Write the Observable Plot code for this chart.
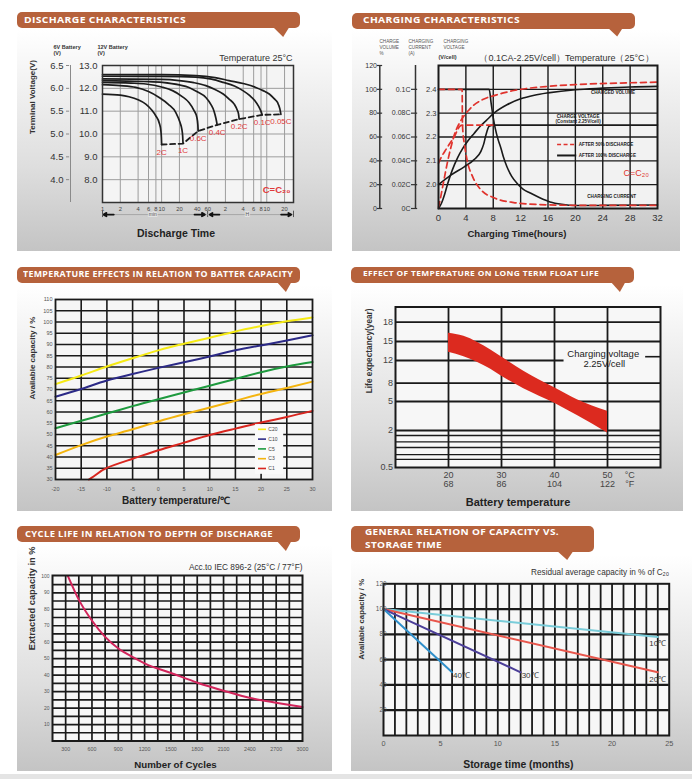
<!DOCTYPE html>
<html>
<head>
<meta charset="utf-8">
<script src="https://cdn.jsdelivr.net/npm/d3@7"></script>
<script src="https://cdn.jsdelivr.net/npm/@observablehq/plot@0.6"></script>
<style>
  html,body{margin:0;padding:0;background:#fff;}
  #page{position:relative;width:692px;height:779px;overflow:hidden;background:#fff;font-family:"Liberation Sans",Arial,sans-serif;}
  .bg{position:absolute;background:linear-gradient(to bottom,#ffffff 0%,#f3f3f3 22%,#dedede 62%,#c4c4c4 100%);}
  .banner{position:absolute;background:#b6623c;border-radius:5px;}
  .tail{position:absolute;background:#b6623c;clip-path:polygon(0 0,100% 0,62% 100%);}
  .btxt{position:absolute;white-space:nowrap;color:#fff;font-family:"Open Sans",sans-serif;font-weight:700;transform-origin:0 50%;line-height:1;letter-spacing:0.3px;}
  .chart{position:absolute;}
  .foot{position:absolute;left:0;top:774px;width:692px;height:5px;background:#e4e4e4;}
</style>
</head>
<body>
<div id="page"></div>
<script>
// ================= DATA =================
// Panel 1 – discharge characteristics (time in minutes, 12 V battery voltage)
const dischargeRates = ["2C", "1C", "0.6C", "0.4C", "0.2C", "0.1C", "0.05C"];
const discharge2C = [[1,11.75],[2,11.7],[2.8,11.63],[4,11.5],[5.4,11.31],[6.8,11.05],[7.95,10.8],[9.2,10.45],[9.7,10.15],[9.9,9.85],[10,9.54]];
const discharge1C = [[1,12.16],[2,12.12],[3.66,12.04],[6,11.86],[9.1,11.6],[13,11.3],[17.4,10.94],[20.5,10.5],[22,10.2],[22.7,9.9],[23,9.6]];
const discharge06C = [[1,12.26],[3,12.23],[5.4,12.19],[10,12.06],[15.3,11.9],[22,11.65],[29,11.38],[35,11.05],[39.5,10.72],[41,10.4],[41.5,10.13]];
const discharge04C = [[1,12.34],[5,12.3],[10.3,12.26],[20,12.15],[29,12.04],[40,11.85],[56,11.6],[68,11.3],[77,11.0],[83,10.68],[87,10.4]];
const discharge02C = [[1,12.41],[10,12.39],[19.8,12.34],[35,12.25],[56,12.12],[80,11.95],[110,11.75],[140,11.52],[169,11.31],[190,11.05],[200,10.87],[205,10.65]];
const discharge01C = [[1,12.53],[10,12.52],[38,12.49],[70,12.4],[110,12.26],[170,12.1],[237,11.9],[310,11.68],[378,11.46],[440,11.2],[478,11.0],[502,10.84]];
const discharge005C = [[1,12.6],[10,12.6],[38,12.56],[80,12.47],[138,12.34],[250,12.2],[391,12.04],[520,11.9],[661,11.75],[800,11.55],[912,11.38],[1000,11.1],[1040,10.86]];
const dischargeEndLine = [[10,9.54],[23,9.58],[41.5,10.13],[87,10.4],[205,10.65],[502,10.84],[1040,10.86]];
const dischargeTickMinutes = [1,2,4,6,8,10,20,40,60,120,240,360,480,600,1200];
const dischargeTickLabels = ["1","2","4","6","8","10","20","40","60","2","4","6","8","10","20"];
const volt12Ticks = [13,12,11,10,9,8];
const volt6Labels = ["6.5","6.0","5.5","5.0","4.5","4.0"];

// Panel 2 – charging characteristics (hours; volume %, current in C, voltage V/cell)
const chargeVoltage100 = [[0,2.0],[1.8,2.04],[3.76,2.075],[5.2,2.105],[6.2,2.14],[6.6,2.17],[6.9,2.205],[7.4,2.245],[8,2.25],[32,2.25]];
const chargeVoltage50 = [[0,2.09],[0.5,2.12],[1.1,2.148],[1.7,2.175],[2.3,2.2],[2.7,2.225],[3.1,2.245],[3.5,2.25],[8,2.25]];
const chargeCurrent100 = [[0,0.1],[7.4,0.1],[7.7,0.088],[8.0,0.076],[8.3,0.067],[8.7,0.058],[9.1,0.051],[9.5,0.043],[10,0.035],[10.7,0.027],[11.5,0.021],[12.4,0.016],[13.4,0.013],[14.8,0.009],[16.3,0.0055],[18,0.0035],[20,0.0025],[24,0.0026],[32,0.003]];
const chargeCurrent50 = [[0,0.1],[3.45,0.1],[3.5,0.072],[3.6,0.062],[3.76,0.055],[4.2,0.040],[5,0.0265],[6.2,0.0157],[8.1,0.009],[11,0.005],[14.8,0.0033],[20,0.0027],[32,0.0027]];
const chargeVolume100 = [[0,0],[0.4,4],[0.9,12],[1.35,21],[2,32],[2.8,42.7],[3.5,50],[4.2,56],[5.2,63],[6.2,69.7],[7,74],[8.1,80],[10,87],[12,92],[14,95],[16,97],[20,99.7],[24,101],[28,102],[32,102.5]];
const chargeVolume50 = [[0,1],[0.3,9],[0.6,18],[1,30],[1.35,40],[1.8,51],[2.3,61.6],[3,71],[3.76,78],[4.5,83],[5.2,87],[6,90],[7.1,93],[8,94.5],[9.5,97],[11,99],[12,100],[16,102.5],[20,104],[26,105.2],[32,106]];
const chargeHourTicks = [0,4,8,12,16,20,24,28,32];
const chargeVolumeTicks = [0,20,40,60,80,100,120];
const chargeCurrentTicks = [0,0.02,0.04,0.06,0.08,0.1];
const chargeCurrentLabels = ["0C","0.02C","0.04C","0.06C","0.08C","0.1C"];
const chargeVoltageTicks = [2.0,2.1,2.2,2.3,2.4];

// Panel 3 – temperature vs available capacity
const tempSeriesNames = ["C20","C10","C5","C3","C1"];
const tempX = [-20,-15,-10,-5,0,5,10,15,20,25,30];
const capC20 = [72.4,76.2,80.2,83.9,87.4,90.3,93,95.8,98.2,100.3,102];
const capC10 = [66.8,70.2,74,76.9,79.6,82.1,84.7,87.4,89.6,91.8,94.1];
const capC5 = [52.8,56.1,59.3,62.6,65.7,68.7,71.7,74.7,77.7,80.2,82.2];
const capC3 = [40.9,45.3,49.1,52.3,55.8,59,62,65,68,70.7,73.5];
const tempXC1 = [-13.5,-12,-10,-5,0,5,10,15,20,25,30];
const capC1 = [30,32.3,35.2,39.2,43,46.4,49.8,52.6,55.3,57.8,60.5];
const tempColors = ["#f5ea14","#2c2a87","#1e9a3e","#f4b40e","#d9261f"];
const tempTicksX = [-20,-15,-10,-5,0,5,10,15,20,25,30];
const tempTicksY = [30,35,40,45,50,55,60,65,70,75,80,85,90,95,100,105,110];

// Panel 4 – float life vs temperature
const floatTemp = [20,22.9,25.4,27.9,30.1,34.2,40.1,44.3,50];
const floatLower = [13.3,12.6,11.7,10.5,9.2,7.1,4.8,3.55,1.9];
const floatUpper = [16.3,15.8,14.9,13.7,12.5,10.1,7.2,5.3,4.0];
const floatYTicks = [0.5,2,5,8,12,15,18];
const floatMinorLines = [1.8,1.54,1.31,1.02,0.83];
const floatTempC = [20,30,40,50];
const floatTempF = [68,86,104,122];

// Panel 5 – cycle life
const cycleCounts = [327,454,597,750,905,1078,1205,1502,1802,2110,2406,2714,3000];
const cycleDepth = [100,85.4,73.3,63.2,56,50.6,47,41.3,35.4,30.4,26.1,23.1,20.6];
const cycleXTicks = [300,600,900,1200,1500,1800,2100,2400,2700,3000];
const cycleYTicks = [10,20,30,40,50,60,70,80,90,100];

// Panel 6 – capacity vs storage time
const storageLabels = ["10℃","20℃","30℃","40℃"];
const storageEndMonth = [24,24,12,6];
const storageEndCap = [78,50,50,50];
const storageColors = ["#79ccd9","#e8564c","#4b3e98","#2f8fca"];
const storageXTicks = [0,5,10,15,20,25];
const storageYTicks = [20,40,60,80,100,120];

// ================= LAYOUT HELPERS =================
const page = document.getElementById("page");
function box(cls, l, t, w, h) {
  const d = document.createElement("div");
  d.className = cls;
  Object.assign(d.style, {left: l + "px", top: t + "px", width: w + "px", height: h + "px"});
  page.appendChild(d);
  return d;
}
function bannerText(text, l, cy, w, fs) {
  const s = document.createElement("div");
  s.className = "btxt";
  s.textContent = text;
  s.style.left = l + "px";
  s.style.top = (cy - 0.53 * fs) + "px";
  s.style.fontSize = fs + "px";
  page.appendChild(s);
  const actual = s.getBoundingClientRect().width;
  s.style.transform = `scaleX(${w / actual})`;
}
function mount(svg, l, t) {
  svg.classList.add("chart");
  svg.style.position = "absolute";
  svg.style.left = l + "px";
  svg.style.top = t + "px";
  page.appendChild(svg);
}
const baseStyle = {background: "transparent", overflow: "visible", fontFamily: '"Liberation Sans", Arial, sans-serif', color: "#222"};
const T = (data, o) => Plot.text(data, {lineAnchor: "middle", ...o});
const title = (t, o) => T([t], {text: d => d, ...o});

// backgrounds
box("bg", 17, 30, 315, 221);
box("bg", 352, 30, 328, 221);
box("bg", 17, 285, 315, 226);
box("bg", 351, 285, 332, 226);
box("bg", 17, 545, 315, 226);
box("bg", 351, 555, 341, 216);
box("foot", 0, 774, 692, 5);

// banners
box("banner", 17, 12, 283, 16); box("tail", 272, 26, 18, 11);
bannerText("DISCHARGE CHARACTERISTICS", 24, 20.3, 162, 8.6);
box("banner", 352, 13, 283, 15.5); box("tail", 606, 26, 18, 10.5);
bannerText("CHARGING CHARACTERISTICS", 363, 20.6, 157, 8.6);
box("banner", 17, 267, 283, 16); box("tail", 276, 281, 16, 11);
bannerText("TEMPERATURE EFFECTS IN RELATION TO BATTER CAPACITY", 23, 274.7, 270, 8.5);
box("banner", 351, 267, 283, 16); box("tail", 610, 281, 16, 11);
bannerText("EFFECT OF TEMPERATURE ON LONG TERM FLOAT LIFE", 363, 275, 236, 6.8);
box("banner", 17, 526, 283, 16); box("tail", 276, 540, 16, 11);
bannerText("CYCLE LIFE IN RELATION TO DEPTH OF DISCHARGE", 25, 534.7, 248, 8.5);
box("banner", 351, 526, 243, 26); box("tail", 556, 550, 18, 10);
bannerText("GENERAL RELATION OF CAPACITY VS.", 365, 532.5, 194, 8.8);
bannerText("STORAGE TIME", 365, 545.5, 77, 8.8);

// ================= PANEL 1 =================
const dischargeCurves = [discharge2C, discharge1C, discharge06C, discharge04C, discharge02C, discharge01C, discharge005C];
const dischargeTable = dischargeRates.flatMap((r, i) => dischargeCurves[i].map(([t, v]) => ({rate: r, t, v})));
const dischargeEnds = dischargeRates.map((r, i) => {
  const p = dischargeCurves[i][dischargeCurves[i].length - 1];
  return {rate: r, t: p[0], v: p[1]};
});
const p1 = Plot.plot({
  width: 346, height: 222, marginLeft: 102, marginRight: 53, marginTop: 35, marginBottom: 50,
  style: baseStyle,
  x: {type: "log", domain: [1, 1700], axis: null},
  y: {domain: [7, 13], axis: null},
  marks: [
    Plot.frame({fill: "#f4f4f4"}),
    Plot.ruleX(dischargeTickMinutes.filter(d => d > 1), {stroke: "#9d9d9d", strokeWidth: 1}),
    Plot.ruleY(volt12Ticks.filter(d => d < 13), {stroke: "#9d9d9d", strokeWidth: 1}),
    Plot.line(dischargeEndLine, {x: d => d[0], y: d => d[1], stroke: "#1c1c1c", strokeWidth: 1.8, strokeDasharray: "5,3.5"}),
    Plot.line(dischargeTable, {x: "t", y: "v", z: "rate", curve: "monotone-x", stroke: "#1c1c1c", strokeWidth: 1.7}),
    T(dischargeEnds, {x: "t", y: "v", text: "rate", dy: 7.5, fill: "#e03a3a", fontSize: 8}),
    Plot.frame({stroke: "#333", strokeWidth: 1.5}),
    T(volt12Ticks, {x: 1, y: d => d, text: d => d.toFixed(1), textAnchor: "end", dx: -5, fontSize: 9.5, fill: "#333"}),
    T(volt12Ticks, {x: 1, y: d => d, text: (d, i) => volt6Labels[i], textAnchor: "end", dx: -39, fontSize: 9.5, fill: "#333"}),
    Plot.ruleX([1], {y1: 7, y2: 13, dx: -32, stroke: "#8a8a8a"}),
    Plot.ruleY(volt12Ticks, {x1: 1, x2: 1.13, dx: -36, stroke: "#8a8a8a"}),
    T(dischargeTickMinutes, {x: d => d, text: (d, i) => dischargeTickLabels[i], frameAnchor: "bottom", dy: 7, fontSize: 5.8, fill: "#444"}),
    Plot.ruleX([1, 60, 1700], {y1: 6.34, y2: 6.62, stroke: "#555"}),
    Plot.ruleY([0], {x1: 1, x2: 60, y: 6.47, stroke: "#9a9a9a", strokeWidth: 0.8}),
    Plot.ruleY([0], {x1: 60, x2: 1700, y: 6.47, stroke: "#9a9a9a", strokeWidth: 0.8}),
    Plot.arrow([0], {x1: 1.55, x2: 1.04, y1: 6.47, y2: 6.47, stroke: "#111", strokeWidth: 1.8, headLength: 3}),
    Plot.arrow([0], {x1: 36, x2: 54, y1: 6.47, y2: 6.47, stroke: "#111", strokeWidth: 1.8, headLength: 3}),
    Plot.arrow([0], {x1: 95, x2: 65, y1: 6.47, y2: 6.47, stroke: "#111", strokeWidth: 1.8, headLength: 3}),
    Plot.arrow([0], {x1: 1050, x2: 1560, y1: 6.47, y2: 6.47, stroke: "#111", strokeWidth: 1.8, headLength: 3}),
    T(["min"], {text: d => d, x: 7.1, y: 6.47, fontSize: 5, fill: "#555", stroke: "#e2e2e2", strokeWidth: 2, paintOrder: "stroke"}),
    T(["H"], {text: d => d, x: 281, y: 6.47, fontSize: 5, fill: "#555", stroke: "#e2e2e2", strokeWidth: 2, paintOrder: "stroke"}),
    title("6V Battery\n(V)", {frameAnchor: "top-left", dx: -49, dy: -15, fontSize: 5.5, fontWeight: "bold", fill: "#333", lineHeight: 1.1}),
    title("12V Battery\n(V)", {frameAnchor: "top-left", dx: -5, dy: -15, fontSize: 5.5, fontWeight: "bold", fill: "#333", lineHeight: 1.1}),
    title("Temperature 25°C", {frameAnchor: "top-right", textAnchor: "end", dx: -1, dy: -7, fontSize: 9, fill: "#333"}),
    title("C=C₂₀", {frameAnchor: "bottom-right", textAnchor: "end", dx: -3, dy: -13, fontSize: 9.5, fontWeight: "bold", fill: "#e03a3a"}),
    title("Discharge Time", {frameAnchor: "bottom", dx: -22, dy: 31, fontSize: 10.5, fontWeight: "bold", fill: "#222"}),
    title("Terminal Voltage(V)", {frameAnchor: "left", dx: -70, rotate: -90, fontSize: 8, fontWeight: "bold", fill: "#333"})
  ]
});
mount(p1, 0, 30);

// ================= PANEL 2 =================
const vToY = v => (v - 1.9) * 200;
const cToY = c => c * 1000;
const blackLine = {curve: "monotone-x", stroke: "#1a1a1a", strokeWidth: 1.6};
const redDash = {curve: "monotone-x", stroke: "#e0332d", strokeWidth: 1.7, strokeDasharray: "6,4"};
const tiny = {fontSize: 4.6, fontWeight: "bold", fill: "#222"};
const p2 = Plot.plot({
  width: 346, height: 222, marginLeft: 92, marginRight: 35, marginTop: 35, marginBottom: 44,
  style: baseStyle,
  x: {domain: [0, 32], axis: null},
  y: {domain: [0, 120], axis: null},
  marks: [
    Plot.frame({fill: "#f2f2f2"}),
    Plot.ruleX(chargeHourTicks.filter(d => d > 0 && d < 32), {stroke: "#1a1a1a", strokeWidth: 1.4}),
    Plot.ruleY(chargeVolumeTicks.filter(d => d > 0 && d < 120), {stroke: "#1a1a1a", strokeWidth: 1.4}),
    Plot.line(chargeVoltage100, {x: d => d[0], y: d => vToY(d[1]), ...blackLine}),
    Plot.line(chargeCurrent100, {x: d => d[0], y: d => cToY(d[1]), ...blackLine}),
    Plot.line(chargeVolume100, {x: d => d[0], y: d => d[1], ...blackLine}),
    Plot.line(chargeVoltage50, {x: d => d[0], y: d => vToY(d[1]), ...redDash}),
    Plot.line(chargeCurrent50, {x: d => d[0], y: d => cToY(d[1]), ...redDash}),
    Plot.line(chargeVolume50, {x: d => d[0], y: d => d[1], ...redDash}),
    // legend
    Plot.ruleY([53.7], {x1: 17.4, x2: 20.2, stroke: "#e0332d", strokeWidth: 1.7, strokeDasharray: "4,2.5"}),
    Plot.ruleY([44.5], {x1: 17.4, x2: 20.2, stroke: "#1a1a1a", strokeWidth: 2}),
    T(["AFTER 50% DISCHARGE"], {text: d => d, x: 20.5, y: 53.7, textAnchor: "start", ...tiny}),
    T(["AFTER 100% DISCHARGE"], {text: d => d, x: 20.5, y: 44.5, textAnchor: "start", ...tiny}),
    T(["CHARGED VOLUME"], {text: d => d, x: 25.5, y: 97.6, ...tiny}),
    T(["CHARGE VOLTAGE"], {text: d => d, x: 20.4, y: 77.2, ...tiny}),
    T(["(Constant 2.25V/cell)"], {text: d => d, x: 20.4, y: 72.6, ...tiny}),
    T(["CHARGING CURRENT"], {text: d => d, x: 25.3, y: 10, ...tiny}),
    T(["C=C₂₀"], {text: d => d, x: 28.9, y: 29.6, fontSize: 9, fill: "#e0332d"}),
    Plot.frame({stroke: "#1a1a1a", strokeWidth: 2}),
    // axes
    T(chargeHourTicks, {x: d => d, text: d => String(d), frameAnchor: "bottom", dy: 9, fontSize: 9.5, fill: "#333"}),
    T(chargeVoltageTicks, {x: 0, y: d => vToY(d), text: d => d.toFixed(1), textAnchor: "end", dx: -2, fontSize: 7.5, fill: "#333"}),
    Plot.ruleX([0], {y1: 0, y2: 120, dx: -23, stroke: "#333", strokeWidth: 1.5}),
    Plot.ruleY(chargeCurrentTicks, {y: d => cToY(d), x1: 0, x2: 0.9, dx: -27, stroke: "#333", strokeWidth: 1.2}),
    T(chargeCurrentTicks, {x: 0, y: d => cToY(d), text: (d, i) => chargeCurrentLabels[i], textAnchor: "end", dx: -28, fontSize: 7, fill: "#333"}),
    Plot.ruleX([0], {y1: 0, y2: 120, dx: -58.7, stroke: "#333", strokeWidth: 1.5}),
    Plot.ruleY(chargeVolumeTicks, {y: d => d, x1: 0, x2: 0.75, dx: -61, stroke: "#333", strokeWidth: 1.2}),
    T(chargeVolumeTicks, {x: 0, y: d => d, text: d => String(d), textAnchor: "end", dx: -61.5, fontSize: 7, fill: "#333"}),
    title("CHARGE\nVOLUME\n%", {frameAnchor: "top-left", dx: -59, dy: -18.3, fontSize: 4.6, fill: "#555", lineHeight: 1.35}),
    title("CHARGING\nCURRENT\n(A)", {frameAnchor: "top-left", dx: -30, dy: -18.3, fontSize: 4.6, fill: "#555", lineHeight: 1.35}),
    title("CHARGING\nVOLTAGE", {frameAnchor: "top-left", dx: 5, dy: -21.7, fontSize: 4.6, fill: "#555", lineHeight: 1.35}),
    title("(V/cell)", {frameAnchor: "top-left", dx: 0, dy: -8, fontSize: 5.5, fontWeight: "bold", fill: "#333"}),
    title("（0.1CA-2.25V/cell）Temperature（25°C）", {frameAnchor: "top", dx: 18.5, dy: -7, fontSize: 9, fill: "#333"}),
    title("Charging Time(hours)", {frameAnchor: "bottom", dx: -31, dy: 25, fontSize: 9.5, fontWeight: "bold", fill: "#222"})
  ]
});
mount(p2, 346, 30);

// ================= PANEL 3 =================
const tempTable = [
  ...tempX.map((t, i) => ({s: "C20", t, v: capC20[i]})),
  ...tempX.map((t, i) => ({s: "C10", t, v: capC10[i]})),
  ...tempX.map((t, i) => ({s: "C5", t, v: capC5[i]})),
  ...tempX.map((t, i) => ({s: "C3", t, v: capC3[i]})),
  ...tempXC1.map((t, i) => ({s: "C1", t, v: capC1[i]}))
];
const p3 = Plot.plot({
  width: 346, height: 225, marginLeft: 55, marginRight: 34, marginTop: 14, marginBottom: 31,
  style: baseStyle,
  x: {domain: [-20, 30], axis: null},
  y: {domain: [30, 110], axis: null},
  color: {domain: tempSeriesNames, range: tempColors},
  marks: [
    Plot.frame({fill: "#f6f6f6"}),
    Plot.ruleX(tempTicksX.filter(d => d > -20 && d < 30), {stroke: "#1a1a1a", strokeWidth: 1.6}),
    Plot.ruleY(tempTicksY.filter(d => d > 30 && d < 110), {stroke: "#1a1a1a", strokeWidth: 1.6}),
    Plot.line(tempTable, {x: "t", y: "v", z: "s", stroke: "s", curve: "natural", strokeWidth: 2}),
    Plot.rect([0], {x1: 18.9, x2: 24.4, y1: 32.3, y2: 54.4, fill: "#fafafa"}),
    Plot.ruleY(tempSeriesNames, {y: (d, i) => 52.3 - i * 4.35, x1: 19.5, x2: 21.05, stroke: d => d, strokeWidth: 1.6}),
    T(tempSeriesNames, {y: (d, i) => 52.3 - i * 4.35, x: 21.4, text: d => d, textAnchor: "start", fontSize: 5, fill: "#444"}),
    Plot.frame({stroke: "#1a1a1a", strokeWidth: 1.8}),
    T(tempTicksY, {x: -20, y: d => d, text: d => String(d), textAnchor: "end", dx: -3, fontSize: 5.5, fill: "#555"}),
    T(tempTicksX, {x: d => d, text: d => String(d), frameAnchor: "bottom", dy: 10, fontSize: 5.5, fill: "#555", fontWeight: d => d === 20 ? "bold" : "normal"}),
    title("Battery temperature/℃", {frameAnchor: "bottom", dx: -8, dy: 21.5, fontSize: 10, fontWeight: "bold", fill: "#222"}),
    title("Available capacity / %", {frameAnchor: "left", dx: -23, dy: 10, rotate: -90, fontSize: 8, fontWeight: "bold", fill: "#333"})
  ]
});
mount(p3, 0, 285);

// ================= PANEL 4 =================
const floatIdx = floatTemp.map((_, i) => i);
const p4 = Plot.plot({
  width: 346, height: 225, marginLeft: 49, marginRight: 32, marginTop: 21.5, marginBottom: 43,
  style: baseStyle,
  x: {domain: [10, 60], axis: null},
  y: {type: "linear", domain: [0.5, 2, 5, 8, 12, 15, 18], range: [182, 145, 116, 97.7, 75, 56, 36.7], axis: null},
  marks: [
    Plot.frame({fill: "#f7f7f7"}),
    Plot.ruleX(floatTempC, {stroke: "#1a1a1a", strokeWidth: 1.8}),
    Plot.ruleY(floatYTicks.filter(d => d !== 0.5 && d !== 12), {stroke: "#1a1a1a", strokeWidth: 1.8}),
    Plot.ruleY(floatMinorLines, {stroke: "#1a1a1a", strokeWidth: 1.4}),
    Plot.ruleY([12], {x1: 10, x2: 41.8, stroke: "#1a1a1a", strokeWidth: 1.8}),
    Plot.ruleY([12.6], {x1: 57.2, x2: 60, stroke: "#1a1a1a", strokeWidth: 1.6}),
    Plot.areaY(floatIdx, {x: i => floatTemp[i], y1: i => floatLower[i], y2: i => floatUpper[i], fill: "#dc2a1f", curve: "monotone-x"}),
    T(["Charging voltage"], {text: d => d, x: 49.2, y: 12.3, dy: -5, fontSize: 9.5, fill: "#222"}),
    T(["2.25V/cell"], {text: d => d, x: 49.2, y: 12.3, dx: 1, dy: 5, fontSize: 9.5, fill: "#222"}),
    Plot.frame({stroke: "#1a1a1a", strokeWidth: 2}),
    T(floatYTicks, {x: 10, y: d => d, text: d => String(d), textAnchor: "end", dx: -2.5, fontSize: 9, fill: "#444"}),
    T(floatTempC, {x: d => d, text: d => String(d), frameAnchor: "bottom", dy: 8, fontSize: 9, fill: "#444"}),
    T(floatTempF, {x: (d, i) => floatTempC[i], text: d => String(d), frameAnchor: "bottom", dy: 16.5, fontSize: 9, fill: "#444"}),
    T(["°C"], {text: d => d, x: 54.2, frameAnchor: "bottom", dy: 8, fontSize: 9, fill: "#444"}),
    T(["°F"], {text: d => d, x: 54.2, frameAnchor: "bottom", dy: 16.5, fontSize: 9, fill: "#444"}),
    title("Battery temperature", {frameAnchor: "bottom", dx: -10, dy: 35, fontSize: 11, fontWeight: "bold", fill: "#222"}),
    title("Life expectancy(year)", {frameAnchor: "left", dx: -26, dy: 6, rotate: -90, fontSize: 8.3, fontWeight: "bold", fill: "#333"})
  ]
});
mount(p4, 346, 285);

// ================= PANEL 5 =================
const cycleGridX = d3.range(300, 3000, 150);
const cycleGridY = d3.range(5, 100, 5);
const p5 = Plot.plot({
  width: 346, height: 225, marginLeft: 52, marginRight: 44, marginTop: 30, marginBottom: 29.5,
  style: baseStyle,
  x: {domain: [150, 3000], axis: null},
  y: {domain: [0, 100.5], axis: null},
  marks: [
    Plot.frame({fill: "#f7f7f7"}),
    Plot.ruleX(cycleGridX, {stroke: "#1a1a1a", strokeWidth: 1.7}),
    Plot.ruleY(cycleGridY, {stroke: "#1a1a1a", strokeWidth: 1.7}),
    Plot.line(cycleCounts, {x: d => d, y: (d, i) => cycleDepth[i], curve: "monotone-x", stroke: "#d2245b", strokeWidth: 2}),
    Plot.frame({stroke: "#1a1a1a", strokeWidth: 2}),
    T(cycleYTicks, {x: 150, y: d => d, text: d => String(d), textAnchor: "end", dx: -3, fontSize: 5, fill: "#555"}),
    T(cycleXTicks, {x: d => d, text: d => String(d), frameAnchor: "bottom", dy: 8.5, fontSize: 5.3, fill: "#555"}),
    title("Acc.to IEC 896-2 (25°C / 77°F)", {frameAnchor: "top-right", textAnchor: "end", dy: -8, fontSize: 8.3, fill: "#333"}),
    title("Number of Cycles", {frameAnchor: "bottom", dx: -2, dy: 23.5, fontSize: 9.7, fontWeight: "bold", fill: "#222"}),
    title("Extracted capacity in %", {frameAnchor: "left", dx: -20, dy: -8, rotate: -90, fontSize: 9.3, fontWeight: "bold", fill: "#333"})
  ]
});
mount(p5, 0, 545);

// ================= PANEL 6 =================
const storageTable = storageLabels.flatMap((s, i) => [{s, m: 0, c: 100}, {s, m: storageEndMonth[i], c: storageEndCap[i]}]);
const storageEnds = storageLabels.map((s, i) => ({s, m: storageEndMonth[i], c: storageEndCap[i]}));
const p6 = Plot.plot({
  width: 346, height: 215, marginLeft: 37, marginRight: 23.3, marginTop: 28.3, marginBottom: 35,
  style: baseStyle,
  x: {domain: [0, 25], axis: null},
  y: {domain: [0, 120], axis: null},
  color: {domain: storageLabels, range: storageColors},
  marks: [
    Plot.frame({fill: "#f7f7f7"}),
    Plot.ruleX(d3.range(1, 25), {stroke: "#1a1a1a", strokeWidth: 1.8}),
    Plot.ruleY(storageYTicks.filter(d => d < 120), {stroke: "#1a1a1a", strokeWidth: 2.2}),
    Plot.line(storageTable, {x: "m", y: "c", z: "s", stroke: "s", strokeWidth: 2}),
    T(storageEnds.filter(d => d.m < 20), {x: "m", y: "c", text: "s", textAnchor: "start", dx: 1, dy: 3, fontSize: 8, fill: "#333"}),
    T(storageEnds.filter(d => d.m >= 20), {x: "m", y: "c", text: "s", dy: 7, fontSize: 8, fill: "#333"}),
    Plot.frame({stroke: "#1a1a1a", strokeWidth: 2}),
    T(storageYTicks, {x: 0, y: d => d, text: d => String(d), textAnchor: "end", dx: 3, fontSize: 6.4, fill: "#555"}),
    T(storageXTicks, {x: d => d, text: d => String(d), frameAnchor: "bottom", dy: 7.7, fontSize: 7.3, fill: "#555"}),
    title("Residual average capacity in % of C₂₀", {frameAnchor: "top-right", textAnchor: "end", dy: -11, fontSize: 8.2, fill: "#333"}),
    title("Storage time (months)", {frameAnchor: "bottom", dx: -8, dy: 29, fontSize: 10.4, fontWeight: "bold", fill: "#222"}),
    title("Available capacity / %", {frameAnchor: "left", dx: -22, rotate: -90, fontSize: 7.8, fontWeight: "bold", fill: "#333"})
  ]
});
mount(p6, 346, 555);
</script>
</body>
</html>
